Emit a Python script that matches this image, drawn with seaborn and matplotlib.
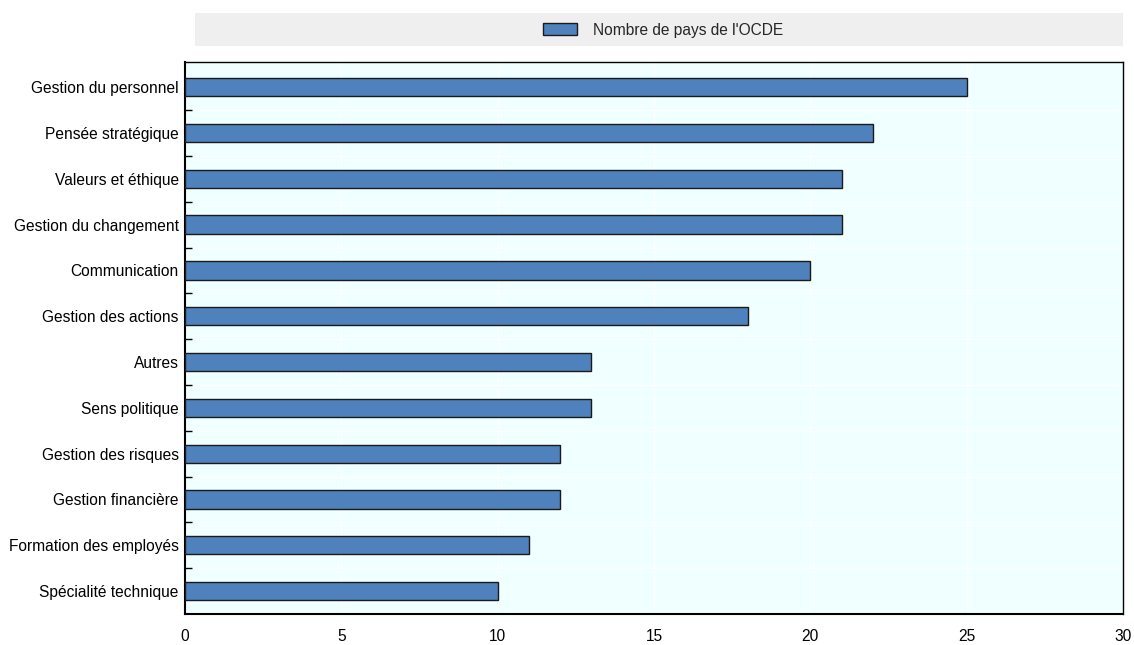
import matplotlib
matplotlib.use("Agg")
import matplotlib.pyplot as plt
import seaborn as sns
import pandas as pd
import numpy as np
from matplotlib.patches import Patch, Rectangle

categories = ["Gestion du personnel", "Pensée stratégique", "Valeurs et éthique",
              "Gestion du changement", "Communication", "Gestion des actions",
              "Autres", "Sens politique", "Gestion des risques",
              "Gestion financière", "Formation des employés", "Spécialité technique"]
values = [25, 22, 21, 21, 20, 18, 13, 13, 12, 12, 11, 10]
series_name = "Nombre de pays de l'OCDE"
xticks = [0, 5, 10, 15, 20, 25, 30]

sns.set_theme(style="white")
plt.rcParams['font.family'] = ['Liberation Sans', 'DejaVu Sans']

df = pd.DataFrame({"cat": categories, "val": values})

fig = plt.figure(figsize=(11.34, 6.45), dpi=100)
ax = fig.add_axes([185/1134, 1-614/645, (1123-185)/1134, (614-62)/645])
ax.set_facecolor("#F0FFFF")

sns.barplot(data=df, x="val", y="cat", orient="h", color="#4F81BD",
            width=0.4, edgecolor="#1a1a1a", linewidth=1.0, saturation=1, ax=ax, zorder=3)

ax.set_xlim(0, 30)
ax.set_ylim(len(categories) - 0.5, -0.55)
ax.set_xticks(xticks)
ax.set_xticklabels([str(t) for t in xticks], fontsize=11.2, color="#000000")
ax.set_yticks(range(len(categories)))
ax.set_yticklabels(categories, fontsize=11.2, color="#000000")
ax.tick_params(axis="y", length=0, pad=4.5)
ax.tick_params(axis="x", direction="in", length=5, width=1.2, color="black", pad=11)
# minor ticks at category boundaries
ax.set_yticks(np.arange(0.5, len(categories) - 0.5, 1), minor=True)
ax.tick_params(axis="y", which="minor", direction="in", length=5, width=1.0, color="black", left=True)
ax.grid(axis="x", color="white", linewidth=1.0, zorder=0)
ax.grid(axis="y", which="minor", color="white", linewidth=1.0, zorder=0)
ax.set_axisbelow(True)
ax.set_xlabel("")
ax.set_ylabel("")
for s in ["left", "bottom"]:
    ax.spines[s].set_color("black")
    ax.spines[s].set_linewidth(1.5)
for s in ["top", "right"]:
    ax.spines[s].set_color("black")
    ax.spines[s].set_linewidth(1.0)

# legend band
fig.patches.append(Rectangle((195/1134, 1-46/645), (1123-195)/1134, 33/645,
                             transform=fig.transFigure, facecolor="#EFEFEF",
                             edgecolor="none", zorder=0))
handle = Patch(facecolor="#4F81BD", edgecolor="#1a1a1a", linewidth=1.0, label=series_name)
fig.legend(handles=[handle], loc="center", bbox_to_anchor=(663/1134, 1-30/645),
           frameon=False, fontsize=11.2, handlelength=2.2, handleheight=0.8,
           handletextpad=1.0)

fig.savefig("out.png", dpi=100)
